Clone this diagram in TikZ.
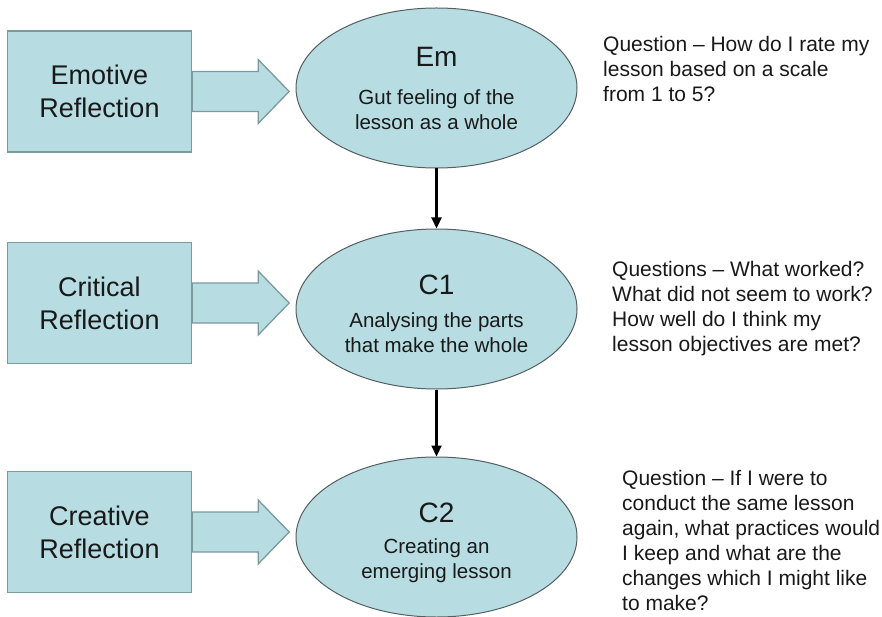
\documentclass[tikz,border=0pt]{standalone}
\usepackage{fontspec}
\setmainfont{Liberation Sans}
\usetikzlibrary{arrows.meta,calc,shapes.geometric}

\definecolor{paleteal}{RGB}{183,221,226}
\definecolor{boxedge}{RGB}{122,154,158}
\definecolor{ovaledge}{RGB}{85,95,97}
\definecolor{inktext}{RGB}{25,25,25}

\tikzset{
  refbox/.style={draw=boxedge, line width=1.3pt, fill=paleteal,
    minimum width=184pt, minimum height=121pt, inner sep=0pt,
    align=center, text=inktext, font=\fontsize{27}{33}\selectfont},
  stageoval/.style={ellipse, draw=ovaledge, line width=1pt, fill=paleteal,
    minimum width=281pt, minimum height=160pt, inner sep=0pt},
  ovaltitle/.style={text=inktext, inner sep=0pt, font=\fontsize{28}{30}\selectfont},
  ovalbody/.style={text=inktext, inner sep=0pt, align=center,
    font=\fontsize{20.5}{25}\selectfont},
  question/.style={text=inktext, inner sep=0pt, align=left, anchor=north west,
    font=\fontsize{21}{25}\selectfont},
  blockarrow/.style={draw=boxedge, line width=1.3pt, fill=paleteal, line join=miter},
  flowarrow/.style={line width=2.2pt, -{Triangle[length=11pt,width=10pt]}}
}

\begin{document}
\begin{tikzpicture}[x=1pt,y=-1pt]
  \useasboundingbox (0,0) rectangle (882,617);

  % reflection boxes
  \node[refbox] (b1) at (99.5,91.5) {Emotive\\Reflection};
  \node[refbox] (b2) at (99.5,303) {Critical\\Reflection};
  \node[refbox] (b3) at (99.5,532) {Creative\\Reflection};

  % stage ovals
  \node[stageoval] (e1) at (436.5,88) {};
  \node[stageoval] (e2) at (436.5,309) {};
  \node[stageoval] (e3) at (436.5,537) {};

  % block arrows from each box towards its oval
  \foreach \b in {b1,b2,b3}{
    \draw[blockarrow] ($(\b.east)+(0,-20)$) -- ++(66,0) -- ++(0,-12)
      -- ++(31,32) -- ++(-31,32) -- ++(0,-12) -- ++(-66,0) -- cycle;
  }

  % texts inside the ovals
  \node[ovaltitle] (t1) at ($(e1.center)+(0,-31)$) {Em};
  \node[ovalbody] (d1) at ($(e1.center)+(0,22)$) {Gut feeling of the\\lesson as a whole};
  \node[ovaltitle] (t2) at ($(e2.center)+(0,-24)$) {C1};
  \node[ovalbody] (d2) at ($(e2.center)+(0,24)$) {Analysing the parts\\that make the whole};
  \node[ovaltitle] (t3) at ($(e3.center)+(0,-24)$) {C2};
  \node[ovalbody] (d3) at ($(e3.center)+(0,24)$) {Creating an\\emerging lesson};

  % flow between the stages
  \draw[flowarrow] (e1.south) -- (e2.north);
  \draw[flowarrow] (e2.south) -- (e3.north);

  % guiding questions
  \node[question] (q1) at (603,36) {Question -- How do I rate my\\lesson based on a scale\\from 1 to 5?};
  \node[question] (q2) at (612,261) {Questions -- What worked?\\What did not seem to work?\\How well do I think my\\lesson objectives are met?};
  \node[question] (q3) at (622,470) {Question -- If I were to\\conduct the same lesson\\again, what practices would\\I keep and what are the\\changes which I might like\\to make?};
\end{tikzpicture}
\end{document}
